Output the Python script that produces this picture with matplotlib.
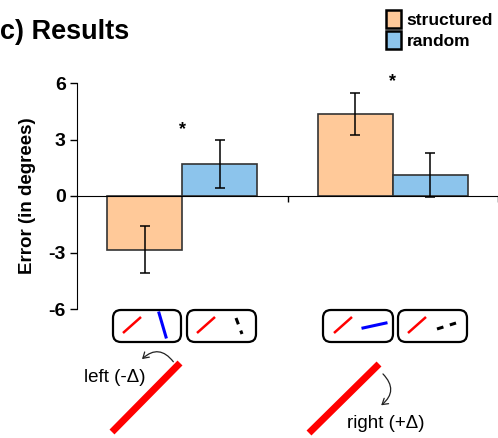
import numpy as np
import matplotlib
matplotlib.use('Agg')
import matplotlib.pyplot as plt
from matplotlib.patches import FancyBboxPatch, FancyArrowPatch

plt.rcParams['font.family'] = ['Liberation Sans', 'DejaVu Sans']

# Data
conditions = ['left', 'right']
series = ['structured', 'random']
structured = [-2.85, 4.35]
structured_err = [1.25, 1.13]
random_ = [1.7, 1.1]
random_err = [1.25, 1.17]
colors = ['#FFC999', '#8CC4EC']
stars_y = [3.5, 6.1]

W, H = 498, 438
fig = plt.figure(figsize=(W / 100, H / 100), dpi=100)

ax = fig.add_axes([77 / W, 1 - 309 / H, (W - 77) / W, (309 - 83) / H])
ax.set_xlim(0, 2)
ax.set_ylim(-6, 6)
centers = np.array([0.5, 1.5])
bw = 0.357
ekw = dict(ecolor='black', elinewidth=1.1, capsize=3.5, capthick=1.1)
ax.bar(centers - bw / 2, structured, bw, yerr=structured_err, color=colors[0],
       edgecolor='#333333', linewidth=1.2, error_kw=ekw, label=series[0], zorder=2)
ax.bar(centers + bw / 2, random_, bw, yerr=random_err, color=colors[1],
       edgecolor='#333333', linewidth=1.2, error_kw=ekw, label=series[1], zorder=2)
for c, s in zip(centers, stars_y):
    ax.text(c, s, '*', ha='center', va='center', fontsize=13, fontweight='bold')

ax.spines['top'].set_visible(False)
ax.spines['right'].set_visible(False)
ax.spines['bottom'].set_position(('data', 0))
ax.spines['bottom'].set_zorder(3)
ax.set_xticks([1, 2])
ax.set_xticklabels([])
ax.tick_params(axis='x', direction='out', length=4, width=1)
ax.set_yticks([-6, -3, 0, 3, 6])
ax.set_yticklabels(['-6', '-3', '0', '3', '6'], fontsize=14, fontweight='bold')
ax.tick_params(axis='y', direction='out', length=5, width=1, pad=3)
ax.set_ylabel('Error (in degrees)', fontsize=13.5, fontweight='bold', labelpad=9)

fig.text(0.5 / W, 1 - 32 / H, 'c) Results', fontsize=19.5, fontweight='bold',
         ha='left', va='center')

leg = fig.legend(loc='upper right', bbox_to_anchor=(1.0, 1 - 5 / H), frameon=False,
                 prop={'weight': 'bold', 'size': 12.5}, handlelength=0.85,
                 handleheight=1.2, handletextpad=0.3, labelspacing=0.2,
                 borderaxespad=0.1, borderpad=0.2)
for h in leg.legend_handles:
    h.set_edgecolor('black')
    h.set_linewidth(1.8)

# Illustrations (pixel coordinates)
ov = fig.add_axes([0, 0, 1, 1])
ov.set_xlim(0, W)
ov.set_ylim(H, 0)
ov.axis('off')

boxes = [(113, 181), (187, 256), (323, 393), (398, 467)]
for x0, x1 in boxes:
    ov.add_patch(FancyBboxPatch((x0, 310), x1 - x0, 32,
                                boxstyle='round,pad=0,rounding_size=8',
                                facecolor='white', edgecolor='black', linewidth=1.6))
for dx in [0, 74, 211, 285]:
    ov.plot([123 + dx, 141 + dx], [333, 317], color='red', lw=1.8,
            solid_capstyle='butt')
ov.plot([159, 166], [313, 337], color='blue', lw=2.2)
ov.plot([236, 242], [318, 334], color='black', lw=2.2, dashes=(2.2, 2.2))
ov.plot([363, 386], [328, 323], color='blue', lw=2.2)
ov.plot([437, 456], [329, 323], color='black', lw=2.2, dashes=(2.2, 2.2))

ov.plot([112, 180], [432, 363], color='red', lw=5, solid_capstyle='butt')
ov.plot([309, 379], [433, 364], color='red', lw=5, solid_capstyle='butt')

ov.add_patch(FancyArrowPatch((175, 364), (140, 361),
                             connectionstyle='arc3,rad=0.6',
                             arrowstyle='->,head_length=4,head_width=2.5',
                             color='#222222', lw=0.9))
ov.add_patch(FancyArrowPatch((381, 372), (379, 407),
                             connectionstyle='arc3,rad=-0.6',
                             arrowstyle='->,head_length=4,head_width=2.5',
                             color='#222222', lw=0.9))
ov.text(115, 378, 'left (-Δ)', fontsize=13.5, ha='center', va='center')
ov.text(386, 423, 'right (+Δ)', fontsize=13.5, ha='center', va='center')

fig.savefig('out.png', dpi=100)
